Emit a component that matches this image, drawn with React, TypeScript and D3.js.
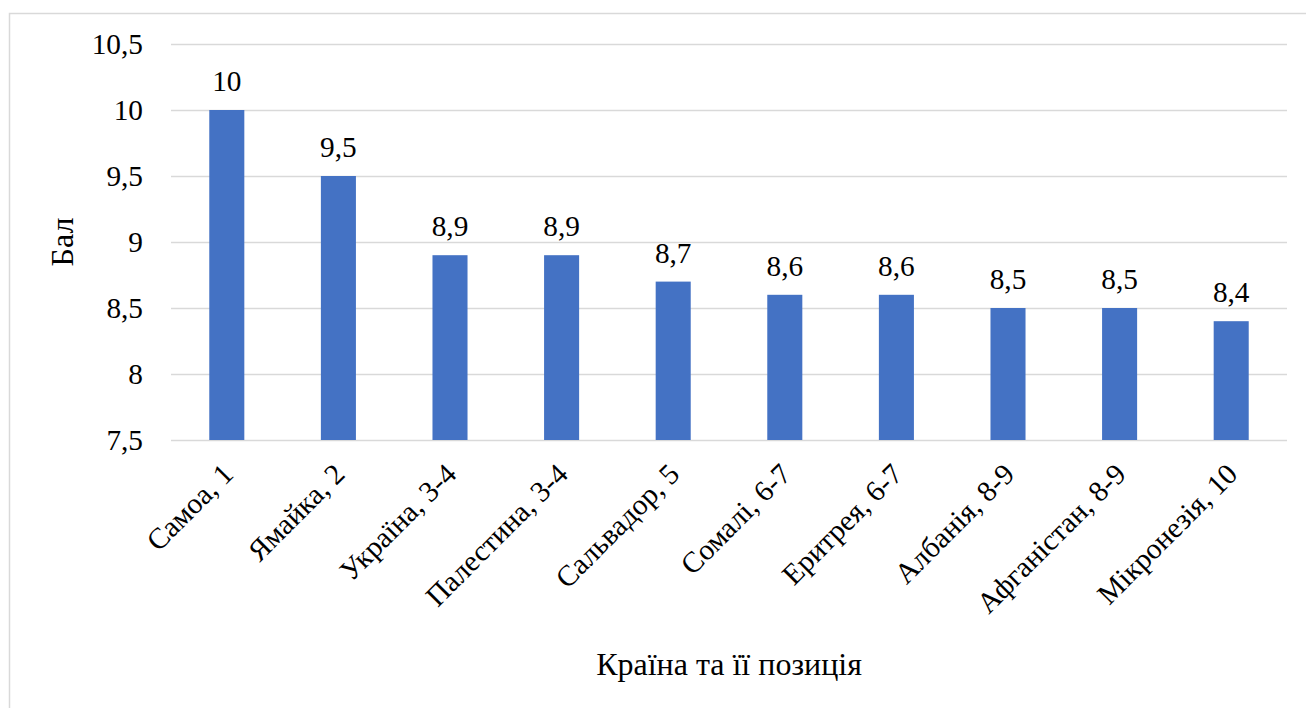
import React from "react";
import * as d3 from "d3";

const countries = [
  "Самоа, 1",
  "Ямайка, 2",
  "Україна, 3-4",
  "Палестина, 3-4",
  "Сальвадор, 5",
  "Сомалі, 6-7",
  "Еритрея, 6-7",
  "Албанія, 8-9",
  "Афганістан, 8-9",
  "Мікронезія, 10",
];
const scores = [10, 9.5, 8.9, 8.9, 8.7, 8.6, 8.6, 8.5, 8.5, 8.4];
const yTicks = [7.5, 8, 8.5, 9, 9.5, 10, 10.5];

const fmt = (v: number) => String(v).replace(".", ",");

const W = 1306;
const H = 708;
const margin = { top: 44, right: 19, bottom: 268, left: 171 };
const width = W - margin.left - margin.right;
const height = H - margin.top - margin.bottom;
const font = "Liberation Serif";
// labels are set at 32px and scaled down to ~29.3px
const k = 29.3 / 32;

const x = d3.scaleBand()
  .domain(countries)
  .range([0, width])
  .paddingInner(0.686)
  .paddingOuter(0.343);

const y = d3.scaleLinear()
  .domain([7.5, 10.5])
  .range([height, 0]);

const App = () => {
  return (
    <div style={{ position: "fixed", left: 0, top: 0, background: "white" }}>
      <svg width={W} height={H}>
        <rect x={9.5} y={13.5} width={W + 10} height={H + 10} fill="white" stroke="#d9d9d9" strokeWidth={1.5} />
        <g transform={`translate(${margin.left},${margin.top})`}>
          {yTicks.map(t => (
            <line key={"g" + t} x1={0} x2={width} y1={Math.round(y(t)) + 0.5} y2={Math.round(y(t)) + 0.5}
              stroke="#d9d9d9" strokeWidth={1.5} />
          ))}
          {scores.map((v, i) => (
            <rect key={"b" + i} x={x(countries[i])} y={y(v)} width={x.bandwidth()} height={height - y(v)} fill="#4472c4" />
          ))}
        </g>
        {yTicks.map(t => (
          <g key={"t" + t} transform={`translate(${margin.left - 28},${margin.top + y(t) + 10}) scale(${k})`}>
            <text textAnchor="end" fontFamily={font} fontSize={32}>{fmt(t)}</text>
          </g>
        ))}
        {scores.map((v, i) => (
          <g key={"v" + i}
            transform={`translate(${margin.left + x(countries[i])! + x.bandwidth() / 2},${margin.top + y(v) - 19}) scale(${k})`}>
            <text textAnchor="middle" fontFamily={font} fontSize={32}>{fmt(v)}</text>
          </g>
        ))}
        {countries.map(c => (
          <g key={c}
            transform={`translate(${margin.left + x(c)! + x.bandwidth() / 2 + 8},${margin.top + height + 36}) rotate(-45) scale(${k})`}>
            <text textAnchor="end" fontFamily={font} fontSize={32}>{c}</text>
          </g>
        ))}
        <text transform={`translate(73,${margin.top + height / 2}) rotate(-90)`} textAnchor="middle"
          fontFamily={font} fontSize={32}>
          Бал
        </text>
        <text x={margin.left + width / 2} y={675} textAnchor="middle" fontFamily={font} fontSize={32}>
          Країна та її позиція
        </text>
      </svg>
    </div>
  );
};

export default App;
